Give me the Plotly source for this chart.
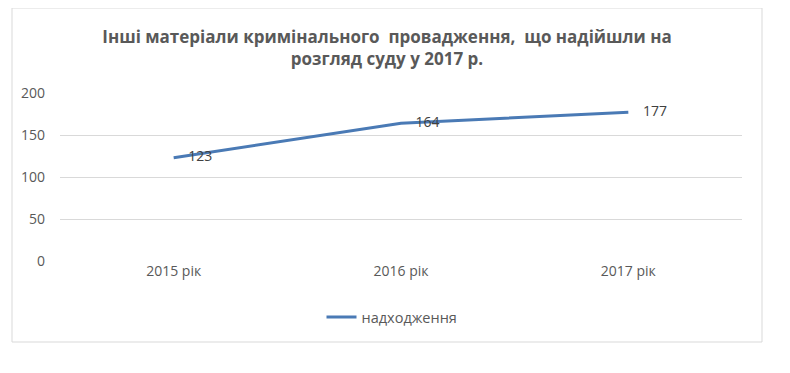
import plotly.graph_objects as go

categories = ["2015 рік", "2016 рік", "2017 рік"]
values = [123, 164, 177]
series_name = "надходження"
title_text = "Інші матеріали кримінального  провадження,  що надійшли на<br>розгляд суду у 2017 р."
y_ticks = [0, 50, 100, 150, 200]

OFF = 8  # page body margin
W, H = 790 - OFF, 373 - OFF
L, T = 60 - OFF, 93 - OFF
R = W - (742 - OFF)
B = H - (261 - OFF)
pw, ph = W - L - R, H - T - B

def px_x(px):
    return (px - OFF - L) / pw

def px_y(py):
    return (H - B - (py - OFF)) / ph

FONT = "Open Sans, Liberation Sans, sans-serif"

fig = go.Figure()
fig.add_trace(go.Scatter(
    x=categories, y=values, name=series_name,
    mode="lines+text",
    text=["    " + str(v) for v in values],
    textposition="middle right",
    textfont=dict(family=FONT, size=14, color="#404040"),
    line=dict(color="#4a7ab5", width=3),
    cliponaxis=False,
))

fig.update_layout(
    width=W, height=H,
    margin=dict(l=L, r=R, t=T, b=B),
    paper_bgcolor="white", plot_bgcolor="white",
    font=dict(family=FONT, color="#595959", size=14),
    title=dict(
        text="<b>" + title_text + "</b>",
        x=px_x(387), xanchor="center", y=1 - (43 - OFF) / H, yanchor="middle",
        xref="paper",
        font=dict(family=FONT, size=17, color="#595959"),
    ),
    xaxis=dict(range=[-0.5, 2.5], showgrid=False, showline=False, zeroline=False, ticks="",
               tickfont=dict(size=14, color="#595959")),
    yaxis=dict(range=[0, 200], tickvals=y_ticks, showgrid=True, gridcolor="#d9d9d9",
               gridwidth=1, zeroline=False, showline=False, ticks="",
               tickfont=dict(size=14, color="#595959"), ticklabelstandoff=14),
    showlegend=True,
    legend=dict(orientation="h", x=px_x(392), xanchor="center", y=px_y(317), yanchor="middle",
                font=dict(size=14.5, color="#595959")),
)

fig.add_shape(type="rect", xref="paper", yref="paper",
              x0=px_x(12), x1=px_x(762), y0=px_y(342), y1=px_y(8),
              line=dict(color="#d9d9d9", width=1), fillcolor="rgba(0,0,0,0)", layer="below")

fig.write_html("out.html")
